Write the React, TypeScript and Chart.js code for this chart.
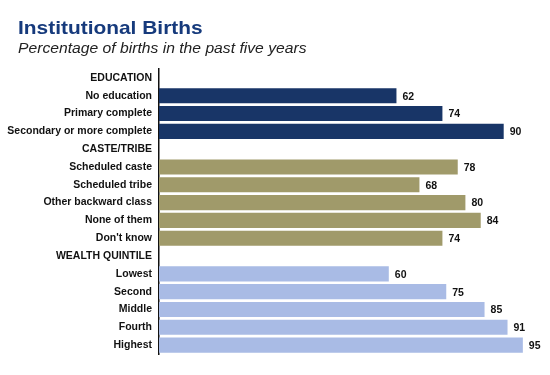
import React, { useEffect, useRef } from "react";
import { Chart, registerables } from "chart.js";

Chart.register(...registerables);

const categories = [
  "EDUCATION",
  "No education",
  "Primary complete",
  "Secondary or more complete",
  "CASTE/TRIBE",
  "Scheduled caste",
  "Scheduled tribe",
  "Other backward class",
  "None of them",
  "Don't know",
  "WEALTH QUINTILE",
  "Lowest",
  "Second",
  "Middle",
  "Fourth",
  "Highest",
];

const values: (number | null)[] = [
  null, 62, 74, 90,
  null, 78, 68, 80, 84, 74,
  null, 60, 75, 85, 91, 95,
];

const groups = [
  "", "edu", "edu", "edu",
  "", "caste", "caste", "caste", "caste", "caste",
  "", "wealth", "wealth", "wealth", "wealth", "wealth",
];

const groupColors: Record<string, string> = {
  edu: "#183567",
  caste: "#a09a6a",
  wealth: "#a9bbe5",
  "": "rgba(0,0,0,0)",
};

const titleText = "Institutional Births";
const subtitleText = "Percentage of births in the past five years";

const FONT = "'Liberation Sans', Arial, sans-serif";

const headerText = {
  id: "headerText",
  afterDraw(chart: any) {
    const ctx = chart.ctx;
    ctx.save();
    ctx.textAlign = "left";
    ctx.textBaseline = "alphabetic";
    // title
    ctx.save();
    ctx.translate(18, 34);
    ctx.scale(1.1, 1);
    ctx.font = `bold 19px ${FONT}`;
    ctx.fillStyle = "#163a7c";
    ctx.fillText(titleText, 0, 0);
    ctx.restore();
    // subtitle
    ctx.save();
    ctx.translate(18, 52.5);
    ctx.scale(1.12, 1);
    ctx.font = `italic 14px ${FONT}`;
    ctx.fillStyle = "#222222";
    ctx.fillText(subtitleText, 0, 0);
    ctx.restore();
    ctx.restore();
  },
};

const valueLabels = {
  id: "valueLabels",
  afterDatasetsDraw(chart: any) {
    const ctx = chart.ctx;
    const meta = chart.getDatasetMeta(0);
    ctx.save();
    ctx.font = `bold 10.5px ${FONT}`;
    ctx.fillStyle = "#111111";
    ctx.textAlign = "left";
    ctx.textBaseline = "middle";
    meta.data.forEach((bar: any, i: number) => {
      const v = values[i];
      if (v === null || v === undefined) return;
      ctx.fillText(String(v), bar.x + 6, bar.y + 1);
    });
    ctx.restore();
  },
};

export default function App() {
  const ref = useRef<HTMLCanvasElement | null>(null);
  useEffect(() => {
    if (!ref.current) return;
    const chart = new Chart(ref.current, {
      type: "bar",
      data: {
        labels: categories,
        datasets: [
          {
            data: values as any,
            backgroundColor: groups.map((g) => groupColors[g]),
            borderWidth: 0,
            categoryPercentage: 1,
            barPercentage: 0.85,
          },
        ],
      },
      options: {
        indexAxis: "y",
        animation: false,
        responsive: false,
        maintainAspectRatio: false,
        layout: { padding: { left: 0, right: 8, top: 69, bottom: 21 } },
        plugins: {
          legend: { display: false },
          tooltip: { enabled: false },
          title: { display: false },
        },
        scales: {
          x: {
            display: false,
            min: 0,
            max: 100,
          },
          y: {
            afterFit: (scale: any) => {
              scale.width = 159;
            },
            grid: { display: false, drawTicks: false },
            border: { display: true, color: "#111111", width: 1.5 },
            ticks: {
              color: "#111111",
              padding: 7,
              font: { family: FONT, size: 10.5, weight: "bold" },
              autoSkip: false,
            },
          },
        },
      },
      plugins: [valueLabels, headerText],
    });
    return () => chart.destroy();
  }, []);
  return (
    <div style={{ position: "fixed", left: 0, top: 0, width: 550, height: 375, background: "#ffffff" }}>
      <canvas ref={ref} width={550} height={375} style={{ width: 550, height: 375 }} />
    </div>
  );
}
